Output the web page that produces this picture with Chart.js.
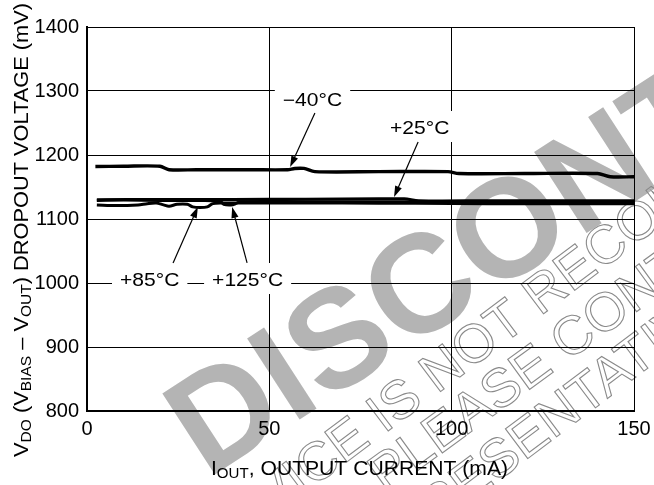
<!DOCTYPE html>
<html>
<head>
<meta charset="utf-8">
<script src="https://cdn.jsdelivr.net/npm/chart.js@4.4.1/dist/chart.umd.min.js"></script>
<style>
  html, body { margin: 0; padding: 0; background: #fff; }
  #wrap { width: 654px; height: 485px; position: relative; }
  canvas { display: block; }
</style>
</head>
<body>
<div id="wrap"><canvas id="c" width="654" height="485"></canvas></div>
<script>
// ---------------- data ----------------
const xTickValues = [0, 50, 100, 150];
const yTickValues = [800, 900, 1000, 1100, 1200, 1300, 1400];

// -40°C
const m40X = [2.3, 10, 20, 22.5, 30, 45, 55, 57, 59.5, 62.5, 80, 99, 102, 120, 140, 143.5, 150];
const m40Y = [1182, 1182.5, 1182.5, 1177, 1177, 1177, 1177, 1179, 1179, 1174, 1174, 1174, 1171, 1171, 1171, 1166, 1166];
// +25°C
const p25X = [2.7, 20, 40, 60, 80, 87, 91, 110, 130, 150];
const p25Y = [1130, 1130.5, 1130.5, 1131, 1131.5, 1131.5, 1128.5, 1128.5, 1128.5, 1128.5];
// +85°C
const p85X = [2.7, 8, 14, 16.5, 19, 21, 22.5, 24.7, 27.5, 29, 31, 33, 34.5, 37, 41, 50, 70, 90, 110, 130, 150];
const p85Y = [1122, 1121, 1122, 1124, 1125, 1122, 1120, 1123, 1123, 1119, 1118, 1119, 1124, 1125, 1125, 1125, 1125, 1124.5, 1124, 1124, 1124];
// +125°C
const p125X = [2.7, 10, 20, 30, 36.5, 37.5, 39.5, 40.8, 42, 60, 90, 120, 150];
const p125Y = [1129, 1129.5, 1129, 1129, 1128, 1123, 1122, 1124, 1127, 1127, 1127, 1127, 1126.5];

// curve labels (data units) and their arrows (tail -> tip, data units)
const labelTexts = ['\u221240\u00B0C', '+25\u00B0C', '+85\u00B0C', '+125\u00B0C'];
const labelX = [53.7, 83.1, 9.05, 34.3];
const labelY = [1276.6, 1232.8, 995.3, 995.3];
const arrowTailX = [62.5, 90.8, 23.6, 43.9];
const arrowTailY = [1265.6, 1220.3, 1031.3, 1031.3];
const arrowTipX = [55.7, 84.2, 30.4, 39.8];
const arrowTipY = [1181.25, 1134.4, 1118.75, 1118.75];

// ---------------- helpers ----------------
const FONT = '"Liberation Sans", Arial, Helvetica, sans-serif';
const pts = (xs, ys) => xs.map((x, i) => ({ x: x, y: ys[i] }));

function richWidth(ctx, parts) {
  let w = 0;
  for (const p of parts) { ctx.font = p.size + 'px ' + FONT; w += ctx.measureText(p.t).width; }
  return w;
}
function drawRich(ctx, parts, x, y, rot, targetW) {
  ctx.save();
  ctx.translate(x, y);
  ctx.rotate(rot);
  const w = richWidth(ctx, parts);
  ctx.scale(targetW ? targetW / w : 1, 1);
  ctx.fillStyle = '#000';
  ctx.textBaseline = 'alphabetic';
  ctx.textAlign = 'left';
  let cx = 0;
  for (const p of parts) {
    ctx.font = p.size + 'px ' + FONT;
    ctx.fillText(p.t, cx, p.dy || 0);
    cx += ctx.measureText(p.t).width;
  }
  ctx.restore();
}
function arrow(ctx, x1, y1, x2, y2) {
  const a = Math.atan2(y2 - y1, x2 - x1);
  const L = 11, W = 3.6;
  ctx.save();
  ctx.strokeStyle = '#000'; ctx.fillStyle = '#000'; ctx.lineWidth = 1.2;
  ctx.beginPath(); ctx.moveTo(x1, y1);
  ctx.lineTo(x2 - Math.cos(a) * L * 0.8, y2 - Math.sin(a) * L * 0.8); ctx.stroke();
  ctx.beginPath();
  ctx.moveTo(x2, y2);
  ctx.lineTo(x2 - Math.cos(a) * L + Math.sin(a) * W, y2 - Math.sin(a) * L - Math.cos(a) * W);
  ctx.lineTo(x2 - Math.cos(a) * L - Math.sin(a) * W, y2 - Math.sin(a) * L + Math.cos(a) * W);
  ctx.closePath(); ctx.fill();
  ctx.restore();
}
// watermark text, positioned by the centre of one character
function wm(ctx, text, idx, cx, cy, deg, size, bold, mode, color) {
  ctx.save();
  ctx.font = (bold ? 'bold ' : '') + size + 'px ' + FONT;
  const pre = ctx.measureText(text.slice(0, idx)).width;
  const cw = ctx.measureText(text[idx]).width;
  const lx = pre + cw / 2, ly = -0.358 * size;
  const r = deg * Math.PI / 180;
  const ox = cx - (lx * Math.cos(r) - ly * Math.sin(r));
  const oy = cy - (lx * Math.sin(r) + ly * Math.cos(r));
  ctx.translate(ox, oy); ctx.rotate(r);
  ctx.textBaseline = 'alphabetic';
  if (mode === 'fill') { ctx.fillStyle = color; ctx.fillText(text, 0, 0); }
  else { ctx.strokeStyle = color; ctx.lineWidth = 1.1; ctx.strokeText(text, 0, 0); }
  ctx.restore();
}

const decor = {
  id: 'decor',
  beforeDraw(chart) {
    const ctx = chart.ctx;
    ctx.save();
    ctx.fillStyle = '#fff';
    ctx.fillRect(0, 0, chart.width, chart.height);
    wm(ctx, 'DISCONTINUED', 0, 222, 410, -33, 140, true, 'fill', '#b4b4b4');
    wm(ctx, 'DEVICE IS NOT RECOMMENDED FOR NEW DESIGN', 10, 441, 367, -37, 54, false, 'stroke', '#8a8a8a');
    wm(ctx, 'PLEASE CONTACT YOUR', 3, 471, 408, -36, 54, false, 'stroke', '#8a8a8a');
    wm(ctx, 'SALES REPRESENTATIVE', 12, 527, 435, -37, 54, false, 'stroke', '#8a8a8a');
    ctx.restore();
  },
  afterDraw(chart) {
    const ctx = chart.ctx;
    const xs = chart.scales.x, ys = chart.scales.y;
    const LS = 18, ST = 1.17;
    // labels with white knock-out boxes
    for (let i = 0; i < labelTexts.length; i++) {
      const px = xs.getPixelForValue(labelX[i]);
      const py = ys.getPixelForValue(labelY[i]);
      ctx.font = LS + 'px ' + FONT;
      const w = ctx.measureText(labelTexts[i]).width * ST;
      ctx.fillStyle = '#fff';
      ctx.fillRect(px - 8, py - 13 - 10, w + 16, 13 + 10 + 8);
      drawRich(ctx, [{ t: labelTexts[i], size: LS }], px, py, 0, w);
    }
    for (let i = 0; i < labelTexts.length; i++) {
      arrow(ctx,
        xs.getPixelForValue(arrowTailX[i]), ys.getPixelForValue(arrowTailY[i]),
        xs.getPixelForValue(arrowTipX[i]), ys.getPixelForValue(arrowTipY[i]));
    }
    // axis titles
    drawRich(ctx, [
      { t: 'I', size: 21 }, { t: 'OUT', size: 15, dy: 3 }, { t: ', OUTPUT CURRENT (mA)', size: 21 }
    ], 211, 475, 0, 297);
    drawRich(ctx, [
      { t: 'V', size: 21 }, { t: 'DO', size: 15, dy: 3 }, { t: ' (V', size: 21 },
      { t: 'BIAS', size: 15, dy: 3 }, { t: ' \u2013 V', size: 21 }, { t: 'OUT', size: 15, dy: 3 },
      { t: ') DROPOUT VOLTAGE (mV)', size: 21 }
    ], 27.5, 457, -Math.PI / 2, 454);
  }
};

const lineDs = (label, xs, ys, w) => ({
  label: label,
  data: pts(xs, ys),
  borderColor: '#000',
  backgroundColor: '#000',
  borderWidth: w,
  pointRadius: 0,
  tension: 0.3,
  fill: false,
  borderCapStyle: 'butt',
  borderJoinStyle: 'round'
});

new Chart(document.getElementById('c'), {
  type: 'line',
  data: {
    datasets: [
      lineDs('-40°C', m40X, m40Y, 3.4),
      lineDs('+25°C', p25X, p25Y, 3),
      lineDs('+125°C', p125X, p125Y, 3),
      lineDs('+85°C', p85X, p85Y, 3)
    ]
  },
  options: {
    responsive: false,
    animation: false,
    devicePixelRatio: 1,
    layout: { padding: { left: 0, top: 27, right: 20, bottom: 0 } },
    plugins: { legend: { display: false }, tooltip: { enabled: false }, title: { display: false } },
    scales: {
      x: {
        type: 'linear', min: 0, max: 150,
        afterBuildTicks: s => { s.ticks = xTickValues.map(v => ({ value: v })); },
        afterFit: s => { s.height = 74; s.paddingRight = 0; s.paddingLeft = 0; },
        grid: { color: '#000', lineWidth: 1, drawTicks: false },
        border: { display: true, color: '#000', width: 2 },
        ticks: { color: '#000', font: { family: FONT, size: 20 }, padding: 6, maxRotation: 0,
                 callback: v => String(v) }
      },
      y: {
        type: 'linear', min: 800, max: 1400,
        afterBuildTicks: s => { s.ticks = yTickValues.map(v => ({ value: v })); },
        afterFit: s => { s.width = 87; s.paddingTop = 0; s.paddingBottom = 0; },
        grid: { color: '#000', lineWidth: 1, drawTicks: false },
        border: { display: true, color: '#000', width: 2 },
        ticks: { color: '#000', font: { family: FONT, size: 20 }, padding: 8,
                 callback: v => String(v) }
      }
    }
  },
  plugins: [decor]
});
</script>
</body>
</html>
